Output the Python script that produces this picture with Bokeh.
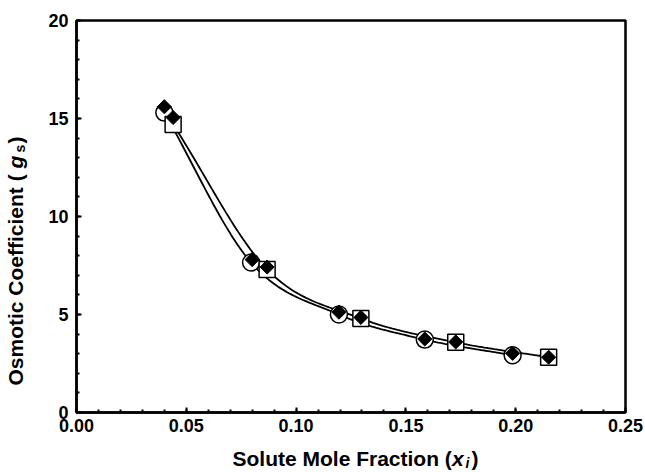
import numpy as np
from bokeh.plotting import figure
from bokeh.layouts import row, column
from bokeh.models import Range1d, Label, FixedTicker, NumeralTickFormatter
from bokeh.embed import file_html
from bokeh.resources import INLINE

# Data
x_circle = [0.0400, 0.0795, 0.1195, 0.1586, 0.1986]
y_circle = [15.30, 7.65, 5.00, 3.72, 2.92]
x_square = [0.0440, 0.0868, 0.1295, 0.1727, 0.2150]
y_square = [14.70, 7.30, 4.80, 3.58, 2.82]
x_diamond = [0.0400, 0.0440, 0.0800, 0.0868, 0.1195, 0.1295, 0.1586, 0.1727, 0.1986, 0.2150]
y_diamond = [15.60, 15.05, 7.80, 7.42, 5.12, 4.85, 3.75, 3.60, 3.02, 2.82]

x_ticks = [0.00, 0.05, 0.10, 0.15, 0.20, 0.25]
y_ticks = [0, 5, 10, 15, 20]

FONT = "Liberation Sans"


def smooth(xs, ys, n=40):
    """Catmull-Rom style smoothed line through the data points (in screen-like scaled space)."""
    sxs = np.asarray(xs) / 0.25
    sys_ = np.asarray(ys) / 20.0
    P = np.column_stack([sxs, sys_])
    P = np.vstack([P[0] - (P[1] - P[0]), P, P[-1] + (P[-1] - P[-2])])
    out = []
    t = np.linspace(0, 1, n)[:, None]
    for i in range(1, len(P) - 2):
        p0, p1, p2, p3 = P[i - 1], P[i], P[i + 1], P[i + 2]
        seg = 0.5 * ((2 * p1) + (-p0 + p2) * t + (2 * p0 - 5 * p1 + 4 * p2 - p3) * t ** 2
                     + (-p0 + 3 * p1 - 3 * p2 + p3) * t ** 3)
        out.append(seg)
    out = np.vstack(out)
    return out[:, 0] * 0.25, out[:, 1] * 20.0


p = figure(width=615, height=440, output_backend="svg", toolbar_location=None,
           x_range=Range1d(0, 0.25), y_range=Range1d(0, 20),
           min_border_left=46, min_border_right=20, min_border_top=20, min_border_bottom=28)
p.xgrid.visible = False
p.ygrid.visible = False
p.outline_line_color = "black"
p.outline_line_width = 2.5
p.background_fill_color = "white"
p.border_fill_color = "white"

for ax in (p.xaxis[0], p.yaxis[0]):
    ax.axis_line_width = 2.5
    ax.axis_line_color = "black"
    ax.major_tick_in = 5
    ax.major_tick_out = 0
    ax.minor_tick_in = 3
    ax.minor_tick_out = 0
    ax.major_tick_line_width = 2
    ax.minor_tick_line_width = 2
    ax.major_label_text_font = FONT
    ax.major_label_text_font_style = "bold"
    ax.major_label_text_font_size = "18px"
    ax.major_label_text_color = "black"

p.xaxis.ticker = FixedTicker(ticks=x_ticks, minor_ticks=[i * 0.01 for i in range(26)])
p.yaxis.ticker = FixedTicker(ticks=y_ticks, minor_ticks=list(range(21)))
p.xaxis.formatter = NumeralTickFormatter(format="0.00")
p.xaxis.major_label_standoff = 6
p.yaxis.major_label_standoff = 8

cx, cy = smooth(x_circle, y_circle)
sx, sy = smooth(x_square, y_square)
p.line(cx, cy, line_color="black", line_width=1.8)
p.line(sx, sy, line_color="black", line_width=1.8)

p.scatter(x_circle, y_circle, marker="circle", size=17, fill_color="white",
          line_color="black", line_width=1.5)
p.scatter(x_square, y_square, marker="square", size=16, fill_color="white",
          line_color="black", line_width=1.5)
p.scatter(x_diamond, y_diamond, marker="square", angle=np.pi / 4, size=10,
          fill_color="black", line_color="black", line_width=1)


def blank(w, h):
    f = figure(width=w, height=h, output_backend="svg", toolbar_location=None,
               x_range=Range1d(0, 1), y_range=Range1d(0, 1),
               x_axis_location=None, y_axis_location=None,
               min_border=0, min_border_left=0, min_border_right=0,
               min_border_top=0, min_border_bottom=0)
    f.xgrid.visible = False
    f.ygrid.visible = False
    f.outline_line_color = None
    return f


LBL = 21
def lab(f, x, y, t, size=LBL, style="bold", angle=0.0):
    f.add_layout(Label(x=x, y=y, x_units="screen", y_units="screen", text=t,
                       text_font=FONT, text_font_size=f"{size}px",
                       text_font_style=style, text_color="black", angle=angle,
                       text_baseline="middle", text_align="left"))

# x axis title: "Solute Mole Fraction (x i)"
fx = blank(615, 32)
xb, yb = 156, 14
lab(fx, xb, yb, "Solute Mole Fraction (")
lab(fx, xb + 219.5, yb, "x", style="bold italic")
lab(fx, xb + 233, yb - 4, "i", size=14, style="bold italic")
lab(fx, xb + 239, yb, ")")

# y axis title: "Osmotic Coefficient ( g s)"
fy = blank(30, 472)
xl, y0 = 15, 87
A = np.pi / 2
lab(fy, xl, y0, "Osmotic Coefficient ( ", angle=A)
lab(fy, xl, y0 + 217, "g", style="bold italic", angle=A)
lab(fy, xl + 4, y0 + 233, "s", size=14, angle=A)
lab(fy, xl, y0 + 242, ")", angle=A)

layout = row(fy, column(p, fx, spacing=0), spacing=0)

open("out.html", "w").write(file_html(layout, INLINE))
